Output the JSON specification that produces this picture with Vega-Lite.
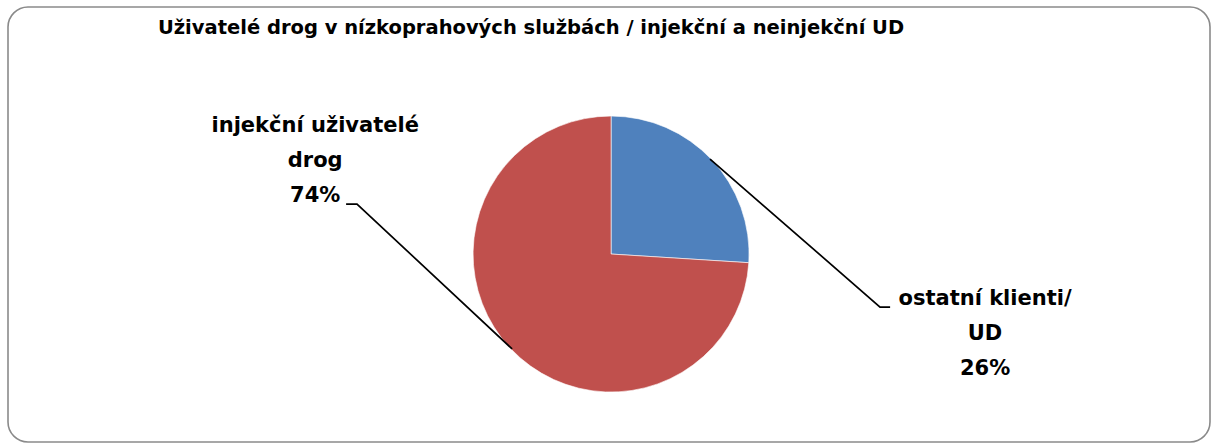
{
  "$schema": "https://vega.github.io/schema/vega-lite/v6.json",
  "width": 1202,
  "height": 435,
  "autosize": {"type": "none"},
  "padding": {"left": 8, "top": 7, "right": 3, "bottom": 3},
  "background": "white",
  "config": {
    "view": {"stroke": "#8a8a8a", "strokeWidth": 1.6, "cornerRadius": 20},
    "font": "DejaVu Sans"
  },
  "datasets": {
    "slices": [
      {"kategorie": "ostatní klienti/ UD", "podil": 26, "poradi": 1},
      {"kategorie": "injekční uživatelé drog", "podil": 74, "poradi": 2}
    ],
    "leaders": [
      {"kategorie": "ostatní klienti/ UD", "bod": 1, "lx": 0.717, "ly": 0.688},
      {"kategorie": "ostatní klienti/ UD", "bod": 2, "lx": 1.949, "ly": -0.384},
      {"kategorie": "ostatní klienti/ UD", "bod": 3, "lx": 2.022, "ly": -0.384},
      {"kategorie": "injekční uživatelé drog", "bod": 1, "lx": -0.717, "ly": -0.688},
      {"kategorie": "injekční uživatelé drog", "bod": 2, "lx": -1.841, "ly": 0.362},
      {"kategorie": "injekční uživatelé drog", "bod": 3, "lx": -1.920, "ly": 0.362}
    ],
    "labels": [
      {"popisek": "ostatní klienti/\nUD\n26%", "tx": 2.710, "ty": -0.370},
      {"popisek": "injekční uživatelé\ndrog\n74%", "tx": -2.144, "ty": 0.884}
    ],
    "titles": [
      {"nadpis": "Uživatelé drog v nízkoprahových službách / injekční a neinjekční UD", "tx": -0.580, "ty": 1.594}
    ]
  },
  "layer": [
    {
      "data": {"name": "slices"},
      "mark": {"type": "arc", "radius": 138, "stroke": "white", "strokeWidth": 0.6},
      "encoding": {
        "theta": {"field": "podil", "type": "quantitative", "stack": true},
        "order": {"field": "poradi", "type": "quantitative"},
        "color": {
          "field": "kategorie",
          "type": "nominal",
          "scale": {"domain": ["ostatní klienti/ UD", "injekční uživatelé drog"], "range": ["#4F81BD", "#C0504D"]},
          "legend": null
        },
        "x": {"datum": 0, "type": "quantitative", "scale": {"domain": [-4.37, 4.34], "nice": false, "zero": false}, "axis": null},
        "y": {"datum": 0, "type": "quantitative", "scale": {"domain": [-1.362, 1.79], "nice": false, "zero": false}, "axis": null}
      }
    },
    {
      "data": {"name": "leaders"},
      "mark": {"type": "line", "color": "black", "strokeWidth": 1.7},
      "encoding": {
        "x": {"field": "lx", "type": "quantitative", "scale": {"domain": [-4.37, 4.34], "nice": false, "zero": false}, "axis": null},
        "y": {"field": "ly", "type": "quantitative", "scale": {"domain": [-1.362, 1.79], "nice": false, "zero": false}, "axis": null},
        "detail": {"field": "kategorie", "type": "nominal"},
        "order": {"field": "bod", "type": "quantitative"}
      }
    },
    {
      "data": {"name": "labels"},
      "mark": {"type": "text", "font": "DejaVu Sans", "fontWeight": "bold", "fontSize": 21, "align": "center", "baseline": "alphabetic", "lineBreak": "\n", "lineHeight": 35, "color": "black"},
      "encoding": {
        "x": {"field": "tx", "type": "quantitative", "scale": {"domain": [-4.37, 4.34], "nice": false, "zero": false}, "axis": null},
        "y": {"field": "ty", "type": "quantitative", "scale": {"domain": [-1.362, 1.79], "nice": false, "zero": false}, "axis": null},
        "text": {"field": "popisek", "type": "nominal"}
      }
    },
    {
      "data": {"name": "titles"},
      "mark": {"type": "text", "font": "DejaVu Sans", "fontWeight": "bold", "fontSize": 19.5, "align": "center", "baseline": "alphabetic", "color": "black"},
      "encoding": {
        "x": {"field": "tx", "type": "quantitative", "scale": {"domain": [-4.37, 4.34], "nice": false, "zero": false}, "axis": null},
        "y": {"field": "ty", "type": "quantitative", "scale": {"domain": [-1.362, 1.79], "nice": false, "zero": false}, "axis": null},
        "text": {"field": "nadpis", "type": "nominal"}
      }
    }
  ]
}
